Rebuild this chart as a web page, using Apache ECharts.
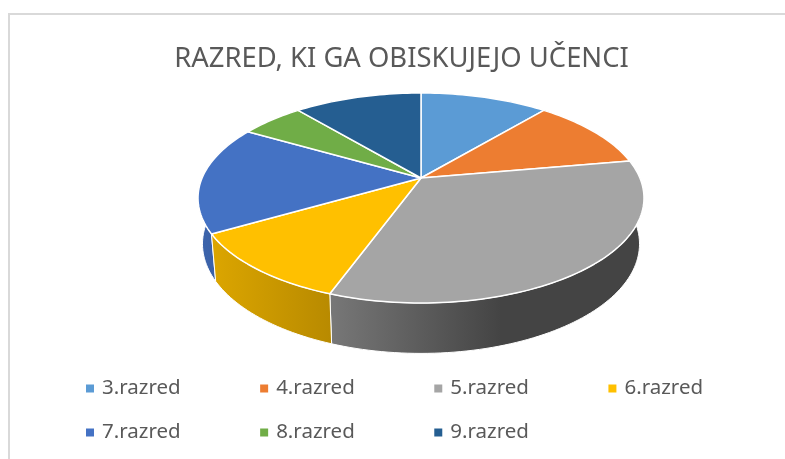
<!DOCTYPE html>
<html>
<head>
<meta charset="utf-8">
<style>
  html, body { margin: 0; padding: 0; background: #fff; }
  #chart { width: 785px; height: 459px; }
</style>
<script src="https://cdn.jsdelivr.net/npm/echarts@6/dist/echarts.min.js"></script>
</head>
<body>
<div id="chart"></div>
<script>
var titleText = 'RAZRED, KI GA OBISKUJEJO UČENCI'
var categories = ['3.razred', '4.razred', '5.razred', '6.razred', '7.razred', '8.razred', '9.razred']
var values = [2, 2, 6, 2, 3, 1, 2]
var colors = ['#5b9bd5', '#ed7d31', '#a5a5a5', '#ffc000', '#4472c4', '#70ad47', '#255e91']

var total = values.reduce(function(a, b) { return a + b }, 0)
var fontFamily = '"Noto Sans", sans-serif'

// pie disc seen in perspective: apex of the top face and the projected radii
var apexX = 421
var apexY = 178
var radiusX = 218.9
var radiusY = 101.2
var persp = 0.1905
// the base of the disc is the same outline, moved down and rescaled
var baseDrop = 45
var baseScaleX = 0.98
var baseScaleY = 1.043

// brightness of the side wall from left to right
var wallLeft = 197
var wallRight = 644
var wallShade = [[0, 0.88], [0.3, 0.72], [0.68, 0.41], [1, 0.41]]

function project(angle, drop, scaleX, scaleY) {
  var u = Math.sin(angle)
  var v = Math.cos(angle)
  var d = 1 + persp * v
  return [apexX + scaleX * radiusX * u / d, apexY + drop - scaleY * radiusY * v / d]
}

function arc(from, to, drop, scaleX, scaleY) {
  var pts = []
  var steps = Math.max(8, Math.ceil((to - from) * 40))
  for (var i = 0; i <= steps; i++) {
    pts.push(project(from + (to - from) * i / steps, drop, scaleX, scaleY))
  }
  return pts
}

function shade(hex, f) {
  var n = parseInt(hex.slice(1), 16)
  var r = Math.round((n >> 16 & 255) * f)
  var g = Math.round((n >> 8 & 255) * f)
  var b = Math.round((n & 255) * f)
  return 'rgb(' + r + ',' + g + ',' + b + ')'
}

function wallFill(hex) {
  return new echarts.graphic.LinearGradient(wallLeft, 0, wallRight, 0, wallShade.map(function(s) {
    return { offset: s[0], color: shade(hex, s[1]) }
  }), true)
}

function sliceSeries(index) {
  var before = values.slice(0, index).reduce(function(a, b) { return a + b }, 0)
  return {
    name: categories[index],
    type: 'custom',
    coordinateSystem: 'none',
    silent: true,
    data: [values[index]],
    renderItem: function(params, api) {
      var from = before / total * Math.PI * 2
      var to = from + api.value(0) / total * Math.PI * 2
      var topArc = arc(from, to, 0, 1, 1)
      var baseArc = arc(from, to, baseDrop, baseScaleX, baseScaleY).reverse()
      var depth = Math.cos((from + to) / 2)
      return {
        type: 'group',
        children: [{
          type: 'polygon',
          z2: 10 - depth,
          shape: { points: topArc.concat(baseArc) },
          style: { fill: wallFill(colors[index]), stroke: '#fff', lineWidth: 1 }
        }, {
          type: 'polygon',
          z2: 100,
          shape: { points: [[apexX, apexY]].concat(topArc) },
          style: { fill: colors[index], stroke: '#fff', lineWidth: 1.5, lineJoin: 'round' }
        }]
      }
    }
  }
}

function legendRow(names, top) {
  return {
    data: names,
    left: 81,
    top: top,
    orient: 'horizontal',
    icon: 'rect',
    itemWidth: 8,
    itemHeight: 8,
    itemGap: 79.5,
    selectedMode: false,
    textStyle: { color: '#595959', fontSize: 20.5, fontFamily: fontFamily, padding: [0, 0, 0, 3] }
  }
}

var chart = echarts.init(document.getElementById('chart'))
chart.setOption({
  animation: false,
  backgroundColor: '#fff',
  color: colors,
  title: {
    text: titleText,
    left: 396.5,
    top: 41,
    textAlign: 'center',
    textStyle: { color: '#595959', fontSize: 27.4, fontWeight: 'normal', fontFamily: fontFamily }
  },
  legend: [
    legendRow(categories.slice(0, 4), 373),
    legendRow(categories.slice(4), 417)
  ],
  graphic: [{
    type: 'polyline',
    silent: true,
    shape: { points: [[9, 459], [9, 14], [785, 14]] },
    style: { stroke: '#d9d9d9', lineWidth: 2, fill: null }
  }],
  series: categories.map(function(name, i) { return sliceSeries(i) })
})
</script>
</body>
</html>
